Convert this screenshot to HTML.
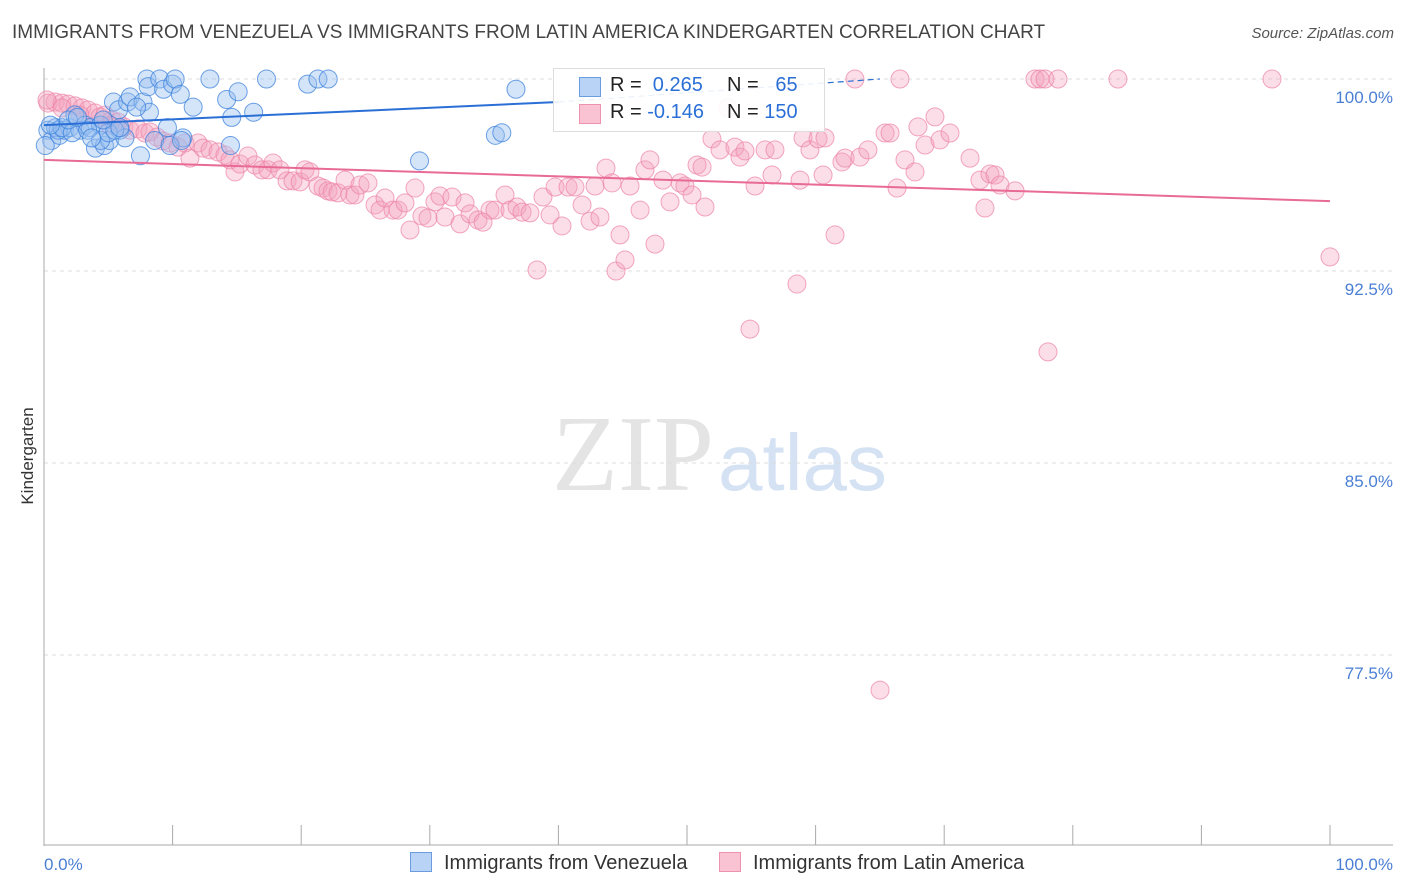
<!DOCTYPE html>
<html><head><meta charset="utf-8"><style>
body{margin:0;background:#fff;font-family:"Liberation Sans",sans-serif;}
#c{position:relative;width:1406px;height:892px;overflow:hidden;}
.t{position:absolute;white-space:nowrap;}
</style></head><body>
<div id="c">
<div class="t" style="left:12px;top:22px;font-size:19px;color:#444;">IMMIGRANTS FROM VENEZUELA VS IMMIGRANTS FROM LATIN AMERICA KINDERGARTEN CORRELATION CHART</div>
<div class="t" style="right:12px;top:25px;font-size:15px;color:#555;font-style:italic;">Source: ZipAtlas.com</div>
<svg id="s" width="1406" height="892" style="position:absolute;left:0;top:0"></svg>
</div>
<script>
const yTicks=[100,92.5,85,77.5];
const yTickLabels=["100.0%","92.5%","85.0%","77.5%"];
const xTickLabels=["0.0%","100.0%"];
const blueX=[0.3,0.6,0.9,1.2,1.6,2.0,2.4,2.8,3.2,3.6,4.0,4.4,4.7,5.1,5.4,5.8,5.9,6.3,6.5,6.7,7.5,7.7,8.0,8.1,8.2,9.0,9.3,9.6,10.0,10.2,10.6,10.8,11.6,12.9,14.2,14.5,14.6,15.1,16.3,17.3,20.5,21.3,22.1,29.2,35.1,35.6,36.7,1.1,1.4,2.2,3.4,4.4,5.0,5.5,8.6,9.8,10.7,0.1,0.5,1.9,2.6,3.7,4.6,5.9,7.2];
const blueY=[98.0,97.6,98.1,97.8,98.0,98.1,98.6,98.0,98.2,98.1,97.3,98.2,97.4,97.6,99.1,98.8,98.0,97.7,99.1,99.3,97.0,99.1,100,99.7,98.7,100,99.6,98.1,99.8,100,99.4,97.7,98.9,100,99.2,97.4,98.5,99.5,98.7,100,99.8,100,100,96.8,97.8,97.9,99.6,98.0,98.1,97.9,98.0,97.6,97.9,98.0,97.6,97.4,97.6,97.4,98.2,98.4,98.5,97.7,98.4,98.1,98.9];
const pinkX=[0.31,0.86,1.4,1.87,2.41,2.95,3.42,3.97,4.35,4.74,5.29,5.75,6.22,6.69,7.31,7.85,8.24,8.79,9.25,9.8,10.42,10.96,11.35,11.98,12.36,12.91,13.53,14.07,14.46,14.85,15.24,15.86,16.41,16.95,17.42,17.81,18.35,18.9,19.36,19.91,20.3,20.68,21.31,21.7,22.08,22.4,22.86,23.41,23.79,24.18,24.57,25.19,25.74,26.13,26.52,27.14,27.53,28.07,28.46,28.85,29.39,29.86,30.4,30.79,31.18,31.73,32.35,32.74,33.13,33.75,34.14,34.68,35.07,35.85,36.24,36.78,37.17,37.79,38.34,38.8,39.35,39.74,40.28,40.75,41.29,41.84,42.46,42.85,43.23,43.7,44.17,44.48,44.79,45.18,45.57,46.35,46.73,47.12,47.51,48.13,48.68,49.46,49.84,50.39,50.78,51.17,51.4,51.94,52.57,53.19,53.73,54.12,54.51,54.9,55.29,56.07,56.61,56.84,58.55,58.79,59.02,59.56,60.19,60.58,60.73,61.51,62.05,62.29,63.06,63.45,64.07,65.01,65.4,65.79,66.33,66.56,66.95,67.73,67.96,68.51,69.28,69.67,70.45,72.01,72.78,73.17,73.56,73.95,74.34,75.51,77.06,77.45,77.84,78.07,78.85,83.51,95.49,100,0.23,1.4,2.8,5.13];
const pinkY=[99.06,99.1,99.06,99.02,98.95,98.87,98.79,98.67,98.52,98.59,98.4,98.32,98.13,98.0,98.05,97.89,97.93,97.73,97.58,97.5,97.34,97.5,96.91,97.5,97.3,97.23,97.15,97.03,96.84,96.37,96.68,96.99,96.64,96.45,96.45,96.72,96.45,96.02,96.02,95.98,96.45,96.37,95.82,95.74,95.63,95.59,95.55,96.05,95.47,95.47,95.86,95.94,95.08,94.88,95.35,94.88,94.88,95.16,94.1,95.74,94.65,94.57,95.2,95.43,94.61,95.39,94.34,95.16,94.73,94.49,94.41,94.88,94.88,95.47,94.88,95.0,94.8,94.77,92.54,95.39,94.69,95.78,94.26,95.78,95.78,95.08,94.45,95.82,94.61,96.52,95.94,92.5,93.91,92.93,95.82,94.88,96.45,96.84,93.55,96.05,95.2,95.94,95.82,95.47,96.64,96.56,95.0,97.66,97.23,98.87,97.34,96.95,97.19,90.23,95.82,97.23,96.25,97.23,91.99,96.05,97.7,97.23,97.66,96.25,97.7,93.91,96.76,96.91,100,96.95,97.23,76.13,97.89,97.89,95.74,100,96.84,96.37,98.13,97.42,98.52,97.62,97.89,96.91,96.05,94.96,96.29,96.25,95.86,95.63,100,100,100,89.34,100,100,100,93.05,99.18,98.87,98.59,98.2];
const blueTrend=[[0,98.2],[40,99.1],[65,100]];
const pinkTrend=[[0,96.84],[100,95.23]];

const X0=44,X1=1330,Y100=79,PXPER=25.6;
const xs=v=>X0+(X1-X0)*v/100;
const ys=v=>Y100+(100-v)*PXPER;
const s=document.getElementById('s');
const NS='http://www.w3.org/2000/svg';
function mk(tag,attrs,parent){const e=document.createElementNS(NS,tag);for(const k in attrs)e.setAttribute(k,attrs[k]);(parent||s).appendChild(e);return e;}

let w=mk('text',{x:714,y:490,'font-size':108,'font-family':'Liberation Serif,serif',fill:'#e4e4e4','text-anchor':'end'});w.textContent='ZIP';


let w2=mk('text',{x:718,y:490,'font-size':80,'font-family':'Liberation Sans,sans-serif',fill:'#d4e2f4'});w2.textContent='atlas';



yTicks.forEach((v,i)=>{
  const g=mk('line',{x1:X0,x2:1393,y1:ys(v),y2:ys(v),stroke:'#dcdcdc','stroke-dasharray':'4,4'});
  
  
  const t=mk('text',{x:1393,y:ys(v)+24,'font-size':17,fill:'#4a7fd4','text-anchor':'end'});
  t.textContent=yTickLabels[i];
  
  
});
let ax=mk('line',{x1:X0,x2:X0,y1:68,y2:846,stroke:'#aaa'});


let bx=mk('line',{x1:X0,x2:1393,y1:845,y2:845,stroke:'#aaa'});


for(let i=0;i<=10;i++){const tk=mk('line',{x1:xs(i*10),x2:xs(i*10),y1:825,y2:845,stroke:'#aaa'});

}
[[0,'start',X0],[1,'end',1393]].forEach(([i,a,x])=>{const t=mk('text',{x:x,y:870,'font-size':17,fill:'#4a7fd4','text-anchor':a});t.textContent=xTickLabels[i];

});
let yl=mk('text',{x:0,y:0,'font-size':17,fill:'#333','text-anchor':'middle',transform:'translate(33,456) rotate(-90)'});yl.textContent='Kindergarten';



pinkX.forEach((x,i)=>{const c=mk('circle',{cx:xs(x),cy:ys(pinkY[i]),r:9,fill:'rgba(244,160,188,0.35)',stroke:'rgba(236,130,165,0.7)','stroke-width':1});

});
blueX.forEach((x,i)=>{const c=mk('circle',{cx:xs(x),cy:ys(blueY[i]),r:9,fill:'rgba(150,190,240,0.4)',stroke:'rgba(60,130,220,0.75)','stroke-width':1});

});
let pt=mk('line',{x1:xs(pinkTrend[0][0]),y1:ys(pinkTrend[0][1]),x2:xs(pinkTrend[1][0]),y2:ys(pinkTrend[1][1]),stroke:'#e86a96','stroke-width':2});


let bt=mk('line',{x1:xs(blueTrend[0][0]),y1:ys(blueTrend[0][1]),x2:xs(blueTrend[1][0]),y2:ys(blueTrend[1][1]),stroke:'#2a6fd6','stroke-width':2});


let bd=mk('line',{x1:xs(blueTrend[1][0]),y1:ys(blueTrend[1][1]),x2:xs(blueTrend[2][0]),y2:ys(blueTrend[2][1]),stroke:'#2a6fd6','stroke-width':1.2,'stroke-dasharray':'6,4'});


</script>
<div class="t" style="left:553px;top:68px;width:270px;height:62px;background:rgba(255,255,255,0.9);border:1px solid #ddd;font-size:20px;color:#222;">
 <div style="position:absolute;left:25px;top:8px;width:20px;height:18px;background:#b8d3f5;border:1px solid #6a9de0"></div>
 <div style="position:absolute;left:56px;top:5px">R = <span style="color:#2a6fd6">&nbsp;0.265</span></div>
 <div style="position:absolute;left:173px;top:5px">N = <span style="color:#2a6fd6">&nbsp;&nbsp;65</span></div>
 <div style="position:absolute;left:25px;top:35px;width:20px;height:18px;background:#f9c3d4;border:1px solid #ee92b0"></div>
 <div style="position:absolute;left:56px;top:32px">R = <span style="color:#2a6fd6">-0.146</span></div>
 <div style="position:absolute;left:173px;top:32px">N = <span style="color:#2a6fd6">150</span></div>
</div>
<div class="t" style="left:410px;top:852px;font-size:20px;color:#333;"><span style="display:inline-block;width:20px;height:18px;background:#b8d3f5;border:1px solid #6a9de0;vertical-align:-3px;margin-right:12px"></span>Immigrants from Venezuela</div>
<div class="t" style="left:719px;top:852px;font-size:20px;color:#333;"><span style="display:inline-block;width:20px;height:18px;background:#f9c3d4;border:1px solid #ee92b0;vertical-align:-3px;margin-right:12px"></span>Immigrants from Latin America</div>
</body></html>
